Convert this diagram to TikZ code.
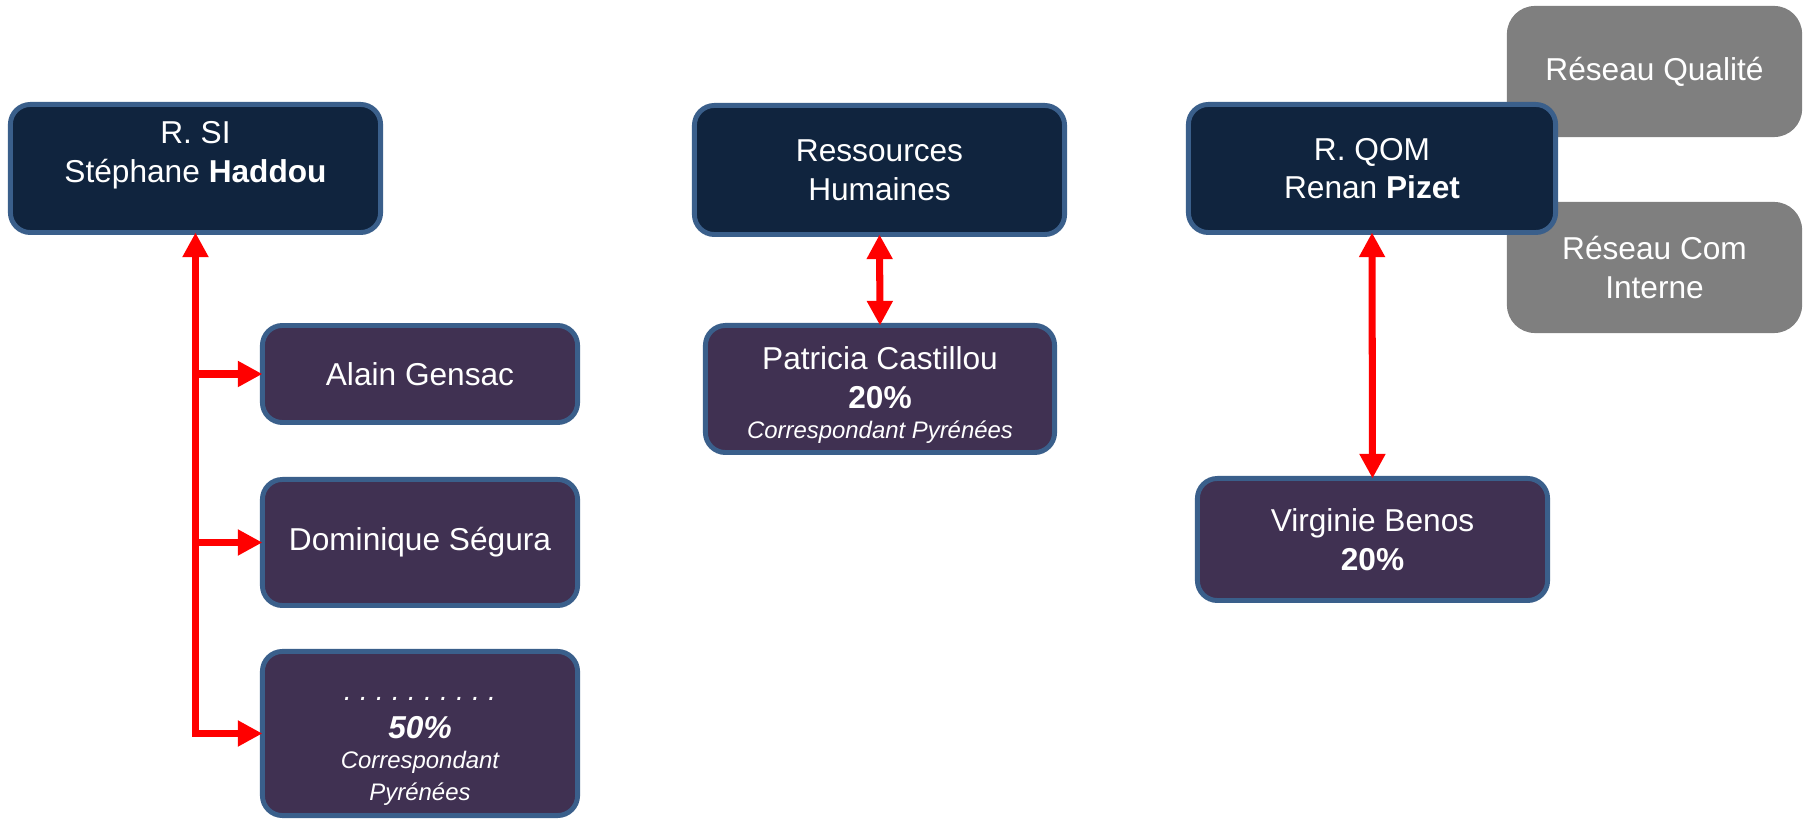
\documentclass[tikz,border=0pt]{standalone}
\usepackage{fontspec}
\setmainfont{Liberation Sans}
\usetikzlibrary{arrows.meta}

\definecolor{navybox}{HTML}{10243E}
\definecolor{purplebox}{HTML}{403152}
\definecolor{boxedge}{HTML}{3A5F8B}
\definecolor{greybox}{HTML}{7F7F7F}
\newcommand{\corrfont}{\fontsize{6.8}{8}\selectfont\itshape}
\newcommand{\dotfont}{\fontsize{8.2}{10}\selectfont\itshape\frenchspacing}

\begin{document}
\begin{tikzpicture}[x=0.01cm, y=-0.01cm,
		box/.style={draw=boxedge, line width=1.4pt, rounded corners=0.2cm, text=white, align=center,
			font=\fontsize{9}{11}\selectfont, inner sep=0pt, outer sep=0pt},
		chef/.style={box, fill=navybox},
		membre/.style={box, fill=purplebox},
		reseau/.style={fill=greybox, rounded corners=0.28cm, text=white, align=center,
			font=\fontsize{9}{11}\selectfont, minimum width=2.95cm, minimum height=1.31cm},
		lien/.style={red, line width=2pt, >={Triangle[length=7pt,width=7pt]}}]
		\useasboundingbox (0,0) rectangle (1806,822);

		% reseaux (sous le R. QOM)
		\node[reseau] (qualite) at (1654.5,71.5) {Réseau Qualité};
		\node[reseau] (cominterne) at (1654.5,267.5) {Réseau Com\\Interne};

		% responsables
		\node[chef, minimum width=3.70cm, minimum height=1.28cm] (rsi) at (195.5,168.5) {R. SI\\Stéphane \textbf{Haddou}\\[-5pt]\strut};
		\node[chef, minimum width=3.70cm, minimum height=1.29cm] (rh) at (879.5,170) {Ressources\\Humaines};
		\node[chef, minimum width=3.67cm, minimum height=1.28cm] (rqom) at (1372,168.5) {R. QOM\\Renan \textbf{Pizet}};

		% correspondants
		\node[membre, minimum width=3.15cm, minimum height=0.97cm] (alain) at (420,374) {Alain Gensac};
		\node[membre, minimum width=3.15cm, minimum height=1.26cm] (dominique) at (420,542.5) {Dominique Ségura};
		\node[membre, minimum width=3.15cm, minimum height=1.64cm] (corrsi) at (420,733.5) {\mbox{}\\{\dotfont . . . . . . . . . .}\\\textbf{\textit{50\%}}\\[-2.5pt]{\corrfont Correspondant}\\[-2pt]{\corrfont Pyrénées}};
		\node[membre, minimum width=3.49cm, minimum height=1.27cm] (patricia) at (880,389) {\mbox{}\\[-1.1pt]Patricia Castillou\\\textbf{20\%}\\[-2.5pt]{\corrfont Correspondant Pyrénées}};
		\node[membre, minimum width=3.50cm, minimum height=1.22cm] (virginie) at (1372.5,539.5) {Virginie Benos\\\textbf{20\%}};

		\draw[lien, <->] (rsi.south) |- (corrsi.west);
		\draw[lien, ->] (rsi.south |- alain.west) -- (alain.west);
		\draw[lien, ->] (rsi.south |- dominique.west) -- (dominique.west);
		\draw[lien, <->] (rh.south) -- (patricia.north);
		\draw[lien, <->] (rqom.south) -- (virginie.north);
	\end{tikzpicture}
\end{document}
